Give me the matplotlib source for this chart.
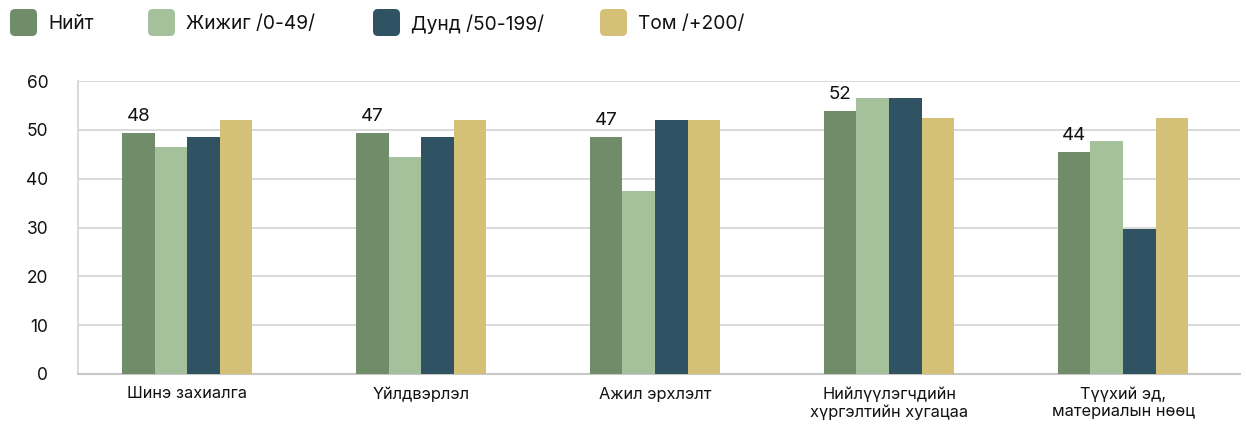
import numpy as np
import matplotlib
matplotlib.use("Agg")
import matplotlib.pyplot as plt
from matplotlib.patches import FancyBboxPatch

plt.rcParams['font.family'] = ['Inter', 'DejaVu Sans']

categories = ["Шинэ захиалга", "Үйлдвэрлэл", "Ажил эрхлэлт",
              "Нийлүүлэгчдийн\nхүргэлтийн хугацаа", "Түүхий эд,\nматериалын нөөц"]
series_names = ["Нийт", "Жижиг /0-49/", "Дунд /50-199/", "Том /+200/"]
total = [49.4, 49.4, 48.6, 53.9, 45.5]
small = [46.5, 44.5, 37.5, 56.6, 47.7]
medium = [48.6, 48.6, 52.0, 56.6, 29.7]
large = [52.0, 52.0, 52.0, 52.4, 52.5]
total_labels = ["48", "47", "47", "52", "44"]

colors = ["#718c69", "#a5c19c", "#2f5363", "#d4c076"]

fig = plt.figure(figsize=(12.46, 4.25), dpi=100)
ax = fig.add_axes([78 / 1246, 51 / 425, (1240 - 78) / 1246, (374 - 81) / 425])

x = np.arange(len(categories))
w = 0.139
for i, (vals, c) in enumerate(zip([total, small, medium, large], colors)):
    bars = ax.bar(x + (i - 1.5) * w, vals, width=w, color=c, zorder=3)
    if i == 0:
        for b, lab in zip(bars, total_labels):
            ax.annotate(lab, (b.get_x() + b.get_width() / 2, b.get_height()),
                        xytext=(0, 5.5), textcoords="offset points",
                        ha="center", va="bottom", fontsize=13.5, color="#111111")

ax.set_xlim(-0.466, 4.5)
ax.set_ylim(0, 60)
ax.set_yticks(range(0, 61, 10))
ax.set_xticks(x)
ax.set_xticklabels(categories, fontsize=11.8, color="#111111", linespacing=1.2)
ax.tick_params(axis="x", length=0, pad=9)
ax.tick_params(axis="y", length=0, pad=21.5, labelsize=12.5, labelcolor="#111111")
ax.grid(True, axis="y", color="#d3d3d3", linewidth=1.2, zorder=0)
for s in ["top", "right"]:
    ax.spines[s].set_visible(False)
ax.spines["left"].set_color("#d3d3d3")
ax.spines["left"].set_linewidth(1.2)
ax.spines["bottom"].set_color("#c8c8c8")
ax.spines["bottom"].set_linewidth(1.5)

# legend drawn by hand with rounded squares
leg_x = [10, 148, 373, 600]
for lx, name, c in zip(leg_x, series_names, colors):
    box = FancyBboxPatch((lx / 1246, (425 - 36) / 425), 27 / 1246, 27 / 425,
                         boxstyle="round,pad=0,rounding_size=0.004",
                         transform=fig.transFigure, facecolor=c, edgecolor="none",
                         mutation_aspect=1246 / 425)
    fig.patches.append(box)
    fig.text((lx + 38) / 1246, (425 - 24) / 425, name, fontsize=13.8,
             ha="left", va="center", color="#111111")

fig.savefig("out.png", dpi=100)
